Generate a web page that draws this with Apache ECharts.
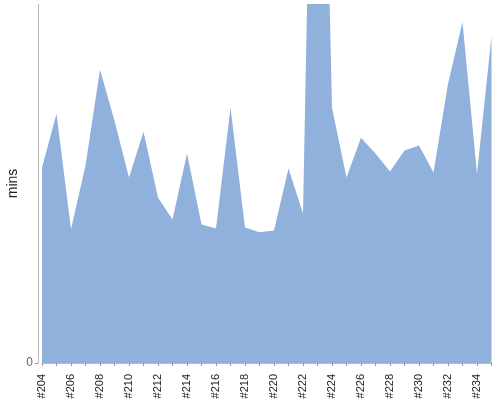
<!DOCTYPE html>
<html>
<head>
<meta charset="utf-8">
<script src="https://cdn.jsdelivr.net/npm/echarts@6/dist/echarts.min.js"></script>
<style>
  html, body { margin: 0; padding: 0; background: #fff; }
  #chart { width: 500px; height: 400px; }
</style>
</head>
<body>
<div id="chart"></div>
<script>
// build numbers along the x axis
const builds = [
    '#204', '#205', '#206', '#207', '#208', '#209', '#210', '#211',
    '#212', '#213', '#214', '#215', '#216', '#217', '#218', '#219',
    '#220', '#221', '#222', '#223', '#224', '#225', '#226', '#227',
    '#228', '#229', '#230', '#231', '#232', '#233', '#234', '#235'
]

// duration per build, in minutes
const durations = [
    65.3, 83.3, 44.7, 66, 98, 81, 62, 77.3,
    55.3, 48, 70, 46.3, 45, 85.3, 45.3, 43.7,
    44.3, 65, 50, 300, 85.3, 62, 75.3, 70,
    64, 71, 72.7, 63.7, 93.3, 114, 63.3, 109.3
]

const yTicks = [0]
const yMax = 120

const myChart = echarts.init(document.getElementById('chart'))

const option = {
    animation: false,
    textStyle: { fontFamily: 'Liberation Sans, Arial, sans-serif' },
    grid: { left: 42, right: 8.5, top: 4, bottom: 37, containLabel: false, outerBoundsMode: 'none' },
    xAxis: {
        type: 'category',
        data: builds,
        boundaryGap: false,
        offset: 5,
        axisLine: { lineStyle: { color: '#bbb', width: 1 } },
        axisTick: { interval: 0, length: 3, lineStyle: { color: '#999' } },
        axisLabel: {
            interval: 1,
            rotate: 90,
            margin: 6,
            fontSize: 11,
            color: '#222'
        },
        splitLine: { show: false }
    },
    yAxis: {
        type: 'value',
        min: 0,
        max: yMax,
        offset: 4,
        name: 'mins',
        nameLocation: 'middle',
        nameRotate: 90,
        nameGap: 18,
        nameMoveOverlap: false,
        nameTextStyle: { fontSize: 14, color: '#222' },
        axisLine: { show: true, lineStyle: { color: '#bbb', width: 1 } },
        axisTick: { show: true, length: 3, customValues: yTicks, lineStyle: { color: '#999' } },
        axisLabel: { customValues: yTicks, margin: 5, fontSize: 12, color: '#666' },
        splitLine: { show: false }
    },
    series: [
        {
            type: 'line',
            data: durations,
            symbol: 'none',
            clip: true,
            lineStyle: { width: 0 },
            areaStyle: { color: '#8fb1db', opacity: 1 }
        }
    ]
}
myChart.setOption(option)
</script>
</body>
</html>
